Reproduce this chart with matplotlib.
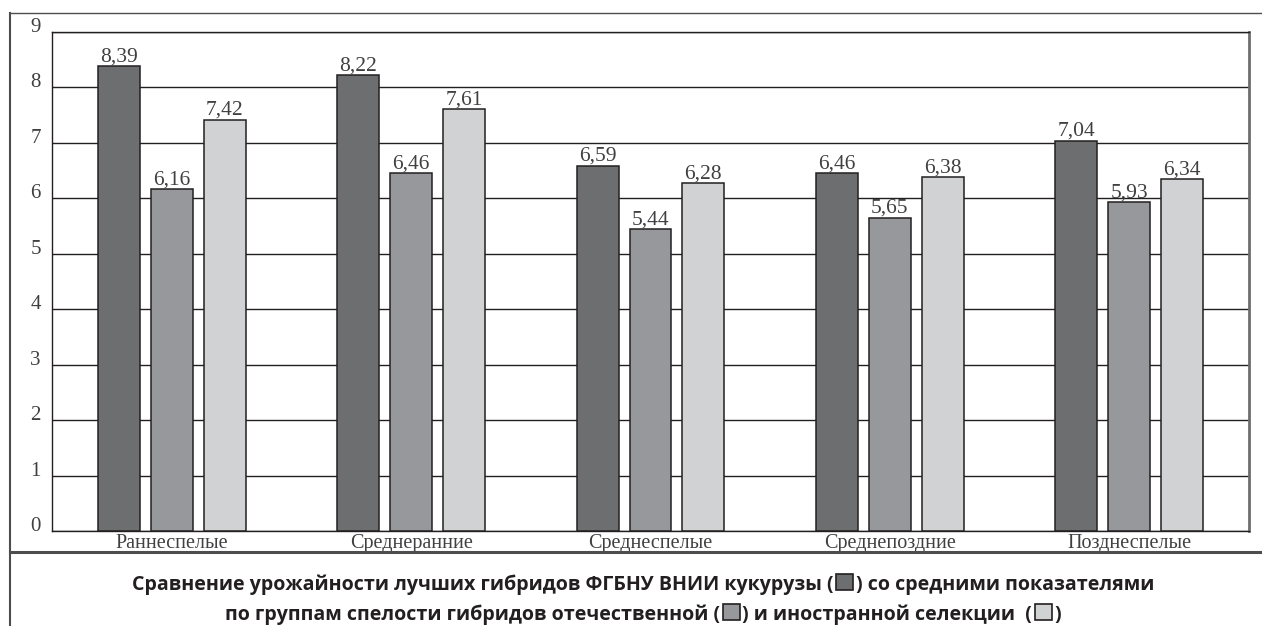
import matplotlib
matplotlib.use('Agg')
from matplotlib import pyplot as plt
from matplotlib.lines import Line2D
from matplotlib.patches import Rectangle
from matplotlib.offsetbox import TextArea, DrawingArea, HPacker, VPacker, AnchoredOffsetbox
import numpy as np

# maturity groups and yields
groups = ['Раннеспелые', 'Среднеранние', 'Среднеспелые', 'Среднепоздние', 'Позднеспелые']
best_vniik = [8.39, 8.22, 6.59, 6.46, 7.04]
domestic = [6.16, 6.46, 5.44, 5.65, 5.93]
foreign = [7.42, 7.61, 6.28, 6.38, 6.34]
y_ticks = [0, 1, 2, 3, 4, 5, 6, 7, 8, 9]

series = [best_vniik, domestic, foreign]
colors = ['#6d6e70', '#97989b', '#d1d2d4']
text_col = '#404042'
serif = 'Liberation Serif'

W, H = 1262, 626
fig = plt.figure(figsize=(W / 100, H / 100), dpi=100)
ax = fig.add_axes([52 / W, (H - 531) / H, 1197 / W, (531 - 32) / H])

x = np.arange(len(groups))
width = 0.175
step = 0.221
for i, (vals, col) in enumerate(zip(series, colors)):
    pos = x + (i - 1) * step
    ax.bar(pos, vals, width, color=col, edgecolor='#231f20', linewidth=1.1, zorder=3)
    for p, v in zip(pos, vals):
        ax.text(p, v + 0.085, f'{v:.2f}'.replace('.', ','), ha='center', va='baseline',
                fontsize=15.5, family=serif, color=text_col, zorder=4)

ax.set_xlim(-0.5, 4.5)
ax.set_ylim(0, 9)
ax.set_yticks(y_ticks)
ax.set_yticklabels([str(t) for t in y_ticks], family=serif, fontsize=15, color=text_col)
for lab in ax.get_yticklabels():
    lab.set_va('baseline')
ax.set_xticks(x)
ax.set_xticklabels(groups, family=serif, fontsize=14.5, color=text_col)
ax.tick_params(length=0)
ax.tick_params(axis='x', pad=2.5)
ax.tick_params(axis='y', pad=8)
ax.yaxis.grid(True, color='#231f20', linewidth=1.0, zorder=0)
ax.set_axisbelow(True)
for s in ['left', 'bottom', 'top']:
    ax.spines[s].set_color('#231f20')
    ax.spines[s].set_linewidth(1.0)
ax.spines['right'].set_color('#6d6e70')
ax.spines['right'].set_linewidth(2.0)

# frame around chart and caption
def px_line(x0, y0, x1, y1, lw, col):
    fig.add_artist(Line2D([x0 / W, x1 / W], [1 - y0 / H, 1 - y1 / H], color=col, lw=lw,
                          transform=fig.transFigure))

px_line(10, 13, W, 13, 1.0, '#4d4d4f')
px_line(10, 13, 10, H, 1.5, '#4d4d4f')
px_line(10, 552, W, 552, 2.2, '#4d4d4f')

# caption with small colour swatches
cap_font = dict(family='Open Sans', fontweight='bold', fontsize=14.1, color='#231f20')


def swatch(col):
    da = DrawingArea(14, 14, 0, 0)
    da.add_artist(Rectangle((1, 0), 12, 12, facecolor=col, edgecolor='#231f20', linewidth=1.2))
    return da


def tx(s):
    return TextArea(s, textprops=cap_font)


line1 = HPacker(children=[tx('Сравнение урожайности лучших гибридов ФГБНУ ВНИИ кукурузы ('),
                          swatch(colors[0]), tx(') со средними показателями')],
                align='baseline', pad=0, sep=1)
line2 = HPacker(children=[tx('по группам спелости гибридов отечественной ('),
                          swatch(colors[1]), tx(') и иностранной селекции  ('),
                          swatch(colors[2]), tx(')')],
                align='baseline', pad=0, sep=1)
caption = VPacker(children=[line1, line2], align='center', pad=0, sep=4)
box = AnchoredOffsetbox(loc='center', child=caption, frameon=False,
                        bbox_to_anchor=(643 / W, 1 - 598 / H), bbox_transform=fig.transFigure)
fig.add_artist(box)

fig.savefig('out.png', dpi=100)
